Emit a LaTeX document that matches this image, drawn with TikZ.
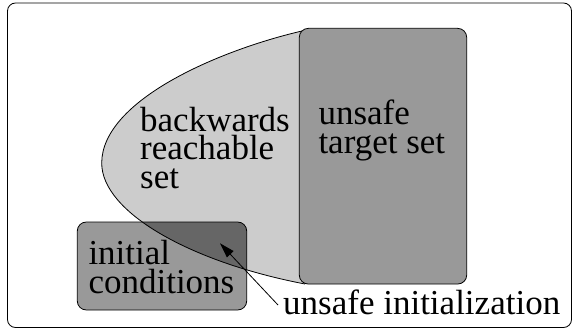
\documentclass[tikz,border=0pt]{standalone}
\usepackage{fontspec}
\setmainfont{Liberation Serif}
\newfontfamily\lblfont{Liberation Serif}
\usetikzlibrary{arrows.meta}
\definecolor{reachgray}{gray}{0.8}
\definecolor{boxgray}{gray}{0.6}
\definecolor{overlapgray}{gray}{0.4}
\tikzset{
  lbl/.style={anchor=base west, inner sep=0pt, align=left, font=\lblfont\fontsize{35}{28.5}\selectfont},
  setbox/.style={draw=black, line width=0.8pt, fill=boxgray, rounded corners=9pt, inner sep=0pt},
  thinline/.style={line width=0.8pt}
}
\begin{document}
\begin{tikzpicture}[x=1pt,y=-1pt]
\useasboundingbox (0,0) rectangle (573,329);
% outer frame
\draw[thinline, rounded corners=8pt] (7.5,3) rectangle (571.5,327.5);
% backwards reachable set (filled region)
\fill[reachgray] (302,31) .. controls (220,50) and (102,100) .. (101.7,163)
   .. controls (101.7,212) and (190,262) .. (305,284) -- (320,284) -- (320,31) -- cycle;
% initial conditions box
\node[setbox, draw=none, minimum width=169.4pt, minimum height=88pt] (init) at (162,266) {};
% overlap
\begin{scope}
  \clip[rounded corners=9pt] (77.3,222) rectangle (246.7,310);
  \fill[overlapgray] (302,31) .. controls (220,50) and (102,100) .. (101.7,163)
     .. controls (101.7,212) and (190,262) .. (305,284) -- (320,284) -- (320,31) -- cycle;
\end{scope}
% reachable set outline
\draw[thinline] (302,31) .. controls (220,50) and (102,100) .. (101.7,163)
   .. controls (101.7,212) and (190,262) .. (305,284);
% initial conditions outline
\node[setbox, fill=none, minimum width=169.4pt, minimum height=88pt] (initb) at (162,266) {};
% unsafe target set
\node[setbox, minimum width=167.4pt, minimum height=255.7pt] (target) at (383,156.2) {};
% labels (anchored at the baseline of their last line)
\node[lbl] (brs) at (140,188.3) {backwards\\reachable\\set};
\node[lbl] (uts) at (318.3,153.3) {unsafe\\target set};
\node[lbl] (ic) at (88.3,293.3) {initial\\conditions};
\node[lbl] (ui) at (283,314) {unsafe initialization};
% arrow
\coordinate (arrstart) at (278,305);
\coordinate (arrtip) at (220,243.3);
\draw[thinline, -{Triangle[length=15pt,width=9pt]}] (arrstart) -- (arrtip);
\end{tikzpicture}
\end{document}
